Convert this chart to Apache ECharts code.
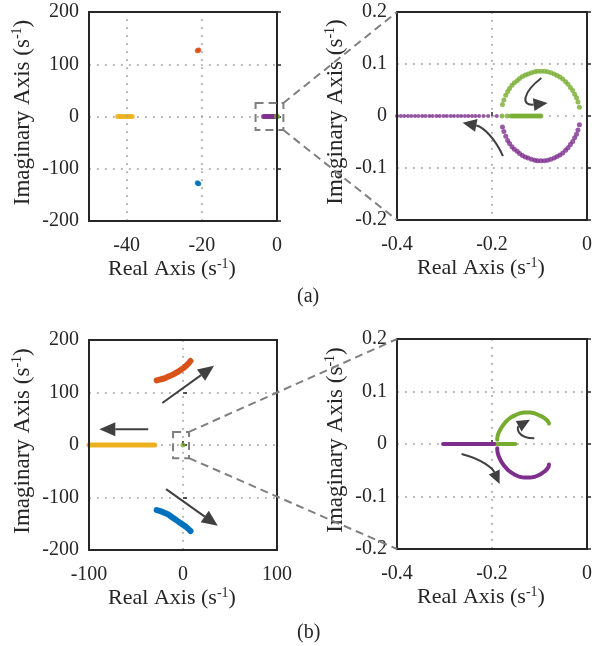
<!DOCTYPE html>
<html>
<head>
<meta charset="utf-8">
<script src="https://cdn.jsdelivr.net/npm/echarts@6/dist/echarts.min.js"></script>
<style>
html, body { margin: 0; padding: 0; background: #fff; }
#main { width: 595px; height: 646px; }
</style>
</head>
<body>
<div id="main"></div>
<script>
// ---- (a) overview: poles for the first case ----
const yellowA = [[-42.4,0],[-42.0,0],[-41.6,0],[-41.2,0],[-40.8,0],[-40.4,0],[-40.0,0],[-39.6,0],[-39.2,0],[-38.8,0],[-38.5,0]];
const orangeA = [[-21.2,126],[-21.0,127],[-20.8,127.5]];
const blueA = [[-21.2,-127],[-21.0,-128],[-20.8,-128.5]];
const purpleA = [[-3.6,0],[-3.3,0],[-3.0,0],[-2.7,0],[-2.4,0],[-2.1,0],[-1.8,0],[-1.5,0],[-1.2,0],[-0.9,0],[-0.6,0],[-0.3,0],[-0.1,0]];
const greenA = [[0,0]];
const gridXA = [-40, -20];

// ---- (a) zoom ----
const purpleAxisZA = [[-0.400,0],[-0.392,0],[-0.385,0],[-0.377,0],[-0.370,0],[-0.362,0],[-0.355,0],[-0.347,0],[-0.340,0],[-0.332,0],[-0.325,0],[-0.317,0],[-0.310,0],[-0.302,0],[-0.295,0],[-0.287,0],[-0.280,0],[-0.272,0],[-0.265,0],[-0.257,0],[-0.250,0],[-0.242,0],[-0.235,0],[-0.227,0],[-0.218,0],[-0.208,0],[-0.190,0]];
const greenAxisZA = [[-0.179,0],[-0.168,0],[-0.160,0],[-0.156,0],[-0.152,0],[-0.148,0],[-0.144,0],[-0.140,0],[-0.136,0],[-0.132,0],[-0.128,0],[-0.124,0],[-0.120,0],[-0.116,0],[-0.112,0],[-0.108,0],[-0.104,0],[-0.100,0],[-0.097,0]];
const greenArcZA = [[-0.178,0.022],[-0.175,0.031],[-0.171,0.040],[-0.167,0.047],[-0.163,0.053],[-0.158,0.059],[-0.153,0.064],[-0.147,0.068],[-0.142,0.072],[-0.136,0.076],[-0.130,0.079],[-0.124,0.081],[-0.117,0.083],[-0.110,0.085],[-0.104,0.086],[-0.097,0.086],[-0.090,0.086],[-0.083,0.085],[-0.076,0.083],[-0.069,0.081],[-0.063,0.078],[-0.057,0.075],[-0.051,0.071],[-0.045,0.066],[-0.040,0.061],[-0.035,0.055],[-0.030,0.049],[-0.026,0.042],[-0.022,0.035],[-0.019,0.027],[-0.016,0.017]];
const purpleArcZA = [[-0.178,-0.021],[-0.175,-0.030],[-0.171,-0.039],[-0.167,-0.047],[-0.163,-0.053],[-0.158,-0.059],[-0.153,-0.064],[-0.147,-0.068],[-0.142,-0.072],[-0.136,-0.076],[-0.130,-0.079],[-0.124,-0.081],[-0.117,-0.083],[-0.110,-0.085],[-0.104,-0.086],[-0.097,-0.086],[-0.090,-0.086],[-0.083,-0.085],[-0.076,-0.083],[-0.069,-0.081],[-0.063,-0.078],[-0.057,-0.075],[-0.051,-0.071],[-0.045,-0.066],[-0.040,-0.061],[-0.035,-0.055],[-0.030,-0.049],[-0.026,-0.042],[-0.022,-0.035],[-0.019,-0.027],[-0.016,-0.017]];

// ---- (b) overview ----
const orangeB = [[-28,123],[-24,125],[-20,127],[-16,130],[-12,133],[-8,137],[-4,141],[0,146],[4,152],[8,160]];
const blueB = [[-28,-124],[-24,-126],[-20,-129],[-16,-132],[-12,-137],[-8,-142],[-4,-147],[0,-152],[4,-157],[8,-164]];
const yellowB = [[-100,0],[-80,0],[-60,0],[-40,0],[-30,0]];
const greenB = [[0,0]];

// ---- (b) zoom ----
const purpleAxisZB = [[-0.303,0],[-0.250,0],[-0.194,0]];
const greenAxisZB = [[-0.188,0],[-0.170,0],[-0.151,0]];
const greenArcZB = [[-0.189,0.008],[-0.188,0.016],[-0.184,0.025],[-0.178,0.034],[-0.171,0.042],[-0.163,0.049],[-0.153,0.054],[-0.143,0.058],[-0.132,0.060],[-0.120,0.060],[-0.109,0.058],[-0.099,0.054],[-0.089,0.049],[-0.082,0.043],[-0.080,0.039]];
const purpleArcZB = [[-0.189,-0.008],[-0.188,-0.017],[-0.184,-0.027],[-0.178,-0.037],[-0.171,-0.045],[-0.163,-0.052],[-0.153,-0.058],[-0.143,-0.062],[-0.132,-0.064],[-0.120,-0.064],[-0.109,-0.062],[-0.099,-0.058],[-0.089,-0.052],[-0.082,-0.045],[-0.080,-0.039]];

// zoom windows (data coords of the dashed boxes) and arrows
const zoomBoxA = [[-5.7, 26], [1.7, -26]];
const zoomBoxB = [[-10.6, 25], [6.4, -25]];
const arrowsA1 = [
  [[-0.177,-0.077],[-0.192,-0.046],[-0.217,-0.021],[-0.262,-0.013]],
  [[-0.096,0.073],[-0.135,0.046],[-0.140,0.019],[-0.083,0.025]]
];
const arrowsB0 = [
  [[-22,80],[33,151]],
  [[-37,30],[-89,30]],
  [[-18,-84],[37,-154]]
];
const arrowsB1 = [
  [[-0.111,0.011],[-0.148,0.011],[-0.148,0.032],[-0.120,0.046]],
  [[-0.264,-0.019],[-0.219,-0.029],[-0.198,-0.048],[-0.184,-0.076]]
];

const FONT = 'Liberation Serif';
const INK = '#262626';
const DOT = '#a0a0a0';
const C = { orange: '#D95319', blue: '#0072BD', yellow: '#EDB120', purple: '#7E2F8E', green: '#77AC30' };

const chart = echarts.init(document.getElementById('main'));

function rich(size) {
  return {
    t: { fontFamily: FONT, fontSize: size, lineHeight: size + 2, color: INK },
    s: { fontFamily: FONT, fontSize: 14, lineHeight: 14, verticalAlign: 'top', color: INK }
  };
}
const dotted = { color: DOT, type: [1.8, 6.2], width: 1.6 };

function xAxis(gi, min, max, interval, fmt, grid) {
  return {
    type: 'value', gridIndex: gi, min, max, interval,
    axisLine: { show: false },
    axisTick: { show: grid, inside: true, length: 4, lineStyle: { color: INK, width: 1.5 } },
    splitLine: { show: grid, lineStyle: dotted },
    axisLabel: { fontFamily: FONT, fontSize: 20, color: INK, margin: 15, showMinLabel: true, showMaxLabel: true, formatter: fmt },
    name: '{t|Real Axis (s}{s|-1}{t|)}',
    nameLocation: 'middle', nameGap: 34,
    nameTextStyle: { rich: rich(22), padding: [0, 22, 0, 0] }
  };
}
function yAxis(gi, min, max, interval, gap) {
  return {
    type: 'value', gridIndex: gi, min, max, interval,
    axisLine: { show: false },
    axisTick: { show: true, inside: true, length: 4, lineStyle: { color: INK, width: 1.5 } },
    splitLine: { show: true, lineStyle: dotted },
    axisLabel: { fontFamily: FONT, fontSize: 20, color: INK, margin: 10, showMinLabel: true, showMaxLabel: true },
    name: '{t|Imaginary Axis (s}{s|-1}{t|)}',
    nameLocation: 'middle', nameRotate: 90, nameGap: gap,
    nameTextStyle: { rich: rich(23), padding: [0, 0, 0, 8] }
  };
}
function dots(gi, data, color, size) {
  return { type: 'scatter', xAxisIndex: gi, yAxisIndex: gi, data, symbolSize: size, itemStyle: { color }, silent: true };
}
function curve(gi, data, color, width) {
  return { type: 'line', xAxisIndex: gi, yAxisIndex: gi, data, symbol: 'none', smooth: true, silent: true,
    lineStyle: { color, width, cap: 'round' } };
}

const option = {
  animation: false,
  grid: [
    { left: 89, top: 12, width: 188, height: 209 },
    { left: 397, top: 12, width: 192, height: 208 },
    { left: 89, top: 340, width: 188, height: 210 },
    { left: 397, top: 339, width: 194, height: 210 }
  ],
  xAxis: [
    xAxis(0, -50, 0, 10, v => (v % 20 === 0 ? String(v) : ''), false),
    xAxis(1, -0.4, 0, 0.2, null, true),
    xAxis(2, -100, 100, 100, null, true),
    xAxis(3, -0.4, 0, 0.2, null, true)
  ],
  yAxis: [
    yAxis(0, -200, 200, 100, 54),
    yAxis(1, -0.2, 0.2, 0.1, 49),
    yAxis(2, -200, 200, 100, 54),
    yAxis(3, -0.2, 0.2, 0.1, 49)
  ],
  series: [
    Object.assign(dots(0, yellowA, C.yellow, 5), {
      markLine: { silent: true, symbol: 'none', label: { show: false }, lineStyle: dotted,
        data: gridXA.map(v => ({ xAxis: v })) }
    }),
    dots(0, orangeA, C.orange, 5),
    dots(0, blueA, C.blue, 5),
    dots(0, purpleA, C.purple, 5),
    dots(0, greenA, C.green, 6),

    dots(1, purpleAxisZA, C.purple, 4),
    dots(1, purpleArcZA, C.purple, 5),
    dots(1, greenArcZA, C.green, 5),
    dots(1, greenAxisZA, C.green, 5),

    curve(2, yellowB, C.yellow, 5),
    curve(2, orangeB, C.orange, 6),
    curve(2, blueB, C.blue, 6),
    dots(2, greenB, C.green, 5),

    curve(3, purpleAxisZB, C.purple, 4),
    curve(3, purpleArcZB, C.purple, 4),
    curve(3, greenArcZB, C.green, 4),
    curve(3, greenAxisZB, C.green, 4)
  ]
};
chart.setOption(option);

// ---- annotations: frames, zoom boxes, connectors, arrows, captions ----
function P(gi, p) { return chart.convertToPixel({ gridIndex: gi }, p); }
const dash = { stroke: '#7f7f7f', lineWidth: 2, lineDash: [8, 5], fill: null };
const ARROW = '#404040';
const graphics = [];

function frame(gi) {
  const r = chart.getModel().getComponent('grid', gi).coordinateSystem.getRect();
  graphics.push({ type: 'rect', z: 40, silent: true, shape: { x: r.x, y: r.y, width: r.width, height: r.height },
    style: { stroke: INK, lineWidth: 2, fill: null } });
}
function zoomLink(src, box, dst) {
  const a = P(src, box[0]), b = P(src, box[1]);
  graphics.push({ type: 'rect', z: 50, shape: { x: a[0], y: a[1], width: b[0] - a[0], height: b[1] - a[1] }, style: dash });
  const t = P(dst, [-0.4, 0.2]), u = P(dst, [-0.4, -0.2]);
  graphics.push({ type: 'line', z: 50, shape: { x1: b[0], y1: a[1], x2: t[0], y2: t[1] }, style: dash });
  graphics.push({ type: 'line', z: 50, shape: { x1: b[0], y1: b[1], x2: u[0], y2: u[1] }, style: dash });
}
function arrow(gi, pts, len, half) {
  const Q = pts.map(p => P(gi, p));
  const tip = Q[Q.length - 1], prev = Q[Q.length - 2];
  const dx = tip[0] - prev[0], dy = tip[1] - prev[1], L = Math.hypot(dx, dy);
  const ux = dx / L, uy = dy / L;
  const bx = tip[0] - ux * len, by = tip[1] - uy * len;
  const stroke = { stroke: ARROW, lineWidth: 2, fill: null };
  if (Q.length === 2) {
    graphics.push({ type: 'line', z: 60, shape: { x1: Q[0][0], y1: Q[0][1], x2: bx, y2: by }, style: stroke });
  } else {
    graphics.push({ type: 'bezierCurve', z: 60, shape: {
      x1: Q[0][0], y1: Q[0][1], cpx1: Q[1][0], cpy1: Q[1][1], cpx2: Q[2][0], cpy2: Q[2][1], x2: bx, y2: by }, style: stroke });
  }
  graphics.push({ type: 'polygon', z: 61, shape: { points: [tip, [bx - uy * half, by + ux * half], [bx + uy * half, by - ux * half]] },
    style: { fill: ARROW } });
}

[0, 1, 2, 3].forEach(frame);
zoomLink(0, zoomBoxA, 1);
zoomLink(2, zoomBoxB, 3);
arrowsA1.forEach(a => arrow(1, a, 14, 6.5));
arrowsB0.forEach(a => arrow(2, a, 16, 7));
arrowsB1.forEach(a => arrow(3, a, 13, 6));

graphics.push({ type: 'text', left: 297, top: 287, style: { text: '(a)', font: '20px "Liberation Serif"', fill: INK } });
graphics.push({ type: 'text', left: 297, top: 623, style: { text: '(b)', font: '20px "Liberation Serif"', fill: INK } });

chart.setOption({ graphic: graphics });
</script>
</body>
</html>
